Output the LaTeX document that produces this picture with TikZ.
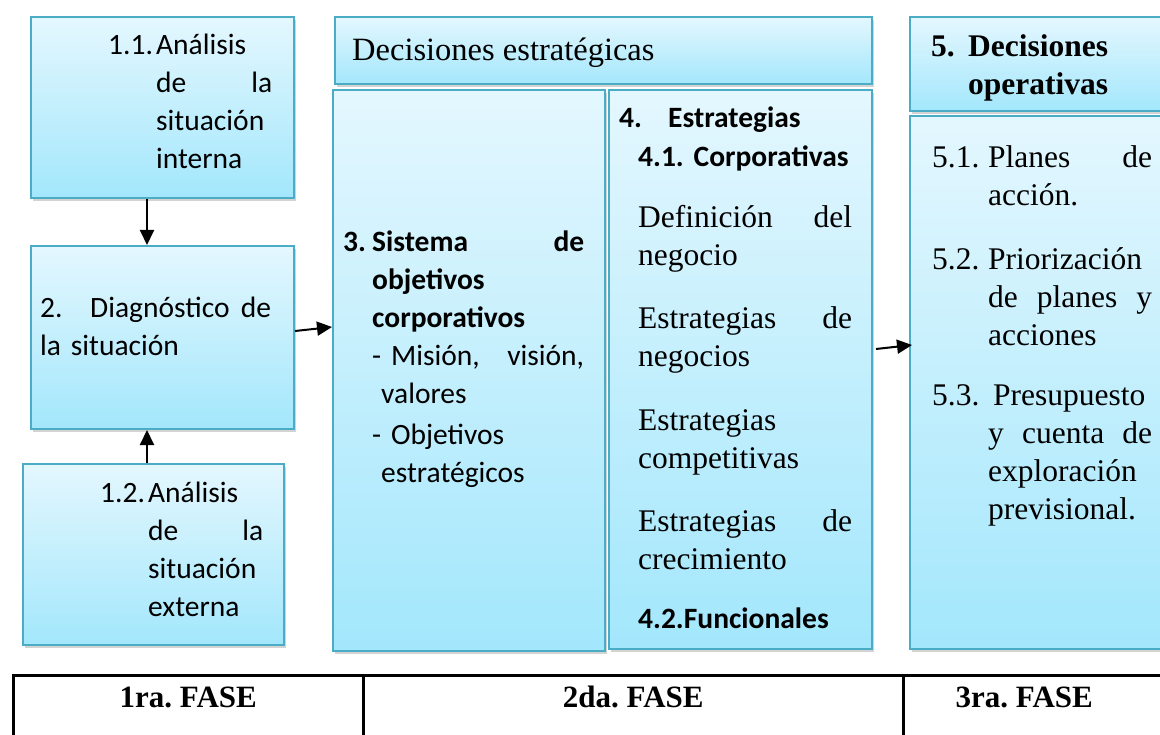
\documentclass[tikz,border=0pt]{standalone}
\usepackage{fontspec}
\setmainfont{Liberation Serif}
\newfontfamily\carlito{Carlito}
\usetikzlibrary{arrows.meta,shadows}
\frenchspacing

\definecolor{bordecaja}{HTML}{4BACC6}
\definecolor{cajaarriba}{HTML}{E4F7FE}
\definecolor{cajaabajo}{HTML}{A3E7FC}

\newcommand{\tnr}{\rmfamily\fontsize{31.5}{38}\selectfont}

\tikzset{
  caja/.style={draw=bordecaja, line width=2pt, top color=cajaarriba, bottom color=cajaabajo,
    anchor=north west, inner sep=0pt,
    drop shadow={shadow xshift=2pt, shadow yshift=-3pt, opacity=0.35}},
  texto/.style={anchor=base west, inner sep=0pt, align=left, font=\carlito\fontsize{29.5}{38}\selectfont},
  flecha/.style={-{Triangle[length=15pt,width=14pt]}, line width=2pt},
  celda/.style={draw, line width=2.5pt, anchor=north west, minimum height=80pt},
  fase/.style={anchor=base, inner sep=0pt, font=\rmfamily\bfseries\fontsize{31}{36}\selectfont},
}

\begin{document}
\begin{tikzpicture}[x=1pt,y=-1pt]
  \useasboundingbox (0,0) rectangle (1160,735);

  % 1ra fase
  \node[caja, minimum width=263pt, minimum height=181pt] (analisisInt) at (30,16) {};
  \node[texto, text width=164pt] (tAnalisisInt) at ([shift={(78,39)}]analisisInt.north west)
    {\makebox[48pt][l]{1.1.}Análisis\\
     \hspace*{48pt}de\hfill la\\
     \hspace*{48pt}situación\\
     \hspace*{48pt}interna};
  \node[caja, minimum width=263pt, minimum height=183pt] (diagnostico) at (30,245) {};
  \node[texto, text width=231pt] (tDiagnostico) at ([shift={(10,73)}]diagnostico.north west)
    {\makebox[50pt][l]{2.}Diagnóstico\hfill de\\
     la situación};
  \node[caja, minimum width=261pt, minimum height=181pt] (analisisExt) at (22,463) {};
  \node[texto, text width=163pt] (tAnalisisExt) at ([shift={(78,39)}]analisisExt.north west)
    {\makebox[48pt][l]{1.2.}Análisis\\
     \hspace*{48pt}de\hfill la\\
     \hspace*{48pt}situación\\
     \hspace*{48pt}externa};

  % 2da fase
  \node[caja, minimum width=537pt, minimum height=67pt] (decEst) at (334,16) {};
  \node[anchor=base west, inner sep=0pt, font=\rmfamily\fontsize{32.5}{38}\selectfont] (tDecEst)
    at ([shift={(18,45)}]decEst.north west) {Decisiones estratégicas};
  \node[caja, minimum width=272pt, minimum height=561pt] (objetivos) at (332,89) {};
  \node[texto, text width=241pt] (tObjetivos) at ([shift={(11,163)}]objetivos.north west)
    {\makebox[29pt][l]{\bfseries 3.}\textbf{Sistema}\hfill\textbf{de}\\
     \hspace*{29pt}\textbf{objetivos}\\
     \hspace*{29pt}\textbf{corporativos}\\
     \hspace*{29pt}- Misión,\hfill visión,\\
     \hspace*{38pt}valores\\[3pt]
     \hspace*{29pt}- Objetivos\\
     \hspace*{38pt}estratégicos};
  \node[caja, minimum width=263pt, minimum height=559pt] (estrategias) at (608,89) {};
  \node[texto, text width=233pt] (tEstrategias) at ([shift={(11,39)}]estrategias.north west)
    {\makebox[49pt][l]{\bfseries 4.}\textbf{Estrategias}\\[1pt]
     \hspace*{19pt}\textbf{4.1. Corporativas}\\[23pt]
     \hspace*{19pt}{\tnr Definición\hfill del}\\
     \hspace*{19pt}{\tnr negocio}\\[25pt]
     \hspace*{19pt}{\tnr Estrategias\hfill de}\\
     \hspace*{19pt}{\tnr negocios}\\[26pt]
     \hspace*{19pt}{\tnr Estrategias}\\
     \hspace*{19pt}{\tnr competitivas}\\[25pt]
     \hspace*{19pt}{\tnr Estrategias\hfill de}\\
     \hspace*{19pt}{\tnr crecimiento}\\[21pt]
     \hspace*{19pt}\textbf{4.2.Funcionales}};

  % 3ra fase
  \node[caja, minimum width=270pt, minimum height=94pt] (decOpe) at (909,16) {};
  \node[texto, font=\tnr\bfseries, text width=230pt] (tDecOpe) at ([shift={(22,41)}]decOpe.north west)
    {\makebox[37pt][l]{5.}Decisiones\\
     \hspace*{37pt}operativas};
  \node[caja, minimum width=270pt, minimum height=533pt] (planes) at (909,115) {};
  \node[texto, font=\tnr, text width=220pt] (tPlanes) at ([shift={(23,53)}]planes.north west)
    {\makebox[56pt][l]{5.1.}Planes\hfill de\\
     \hspace*{56pt}acción.\\[26pt]
     \makebox[56pt][l]{5.2.}Priorización\\
     \hspace*{56pt}de\hfill planes\hfill y\\
     \hspace*{56pt}acciones\\[22pt]
     \makebox[56pt][l]{5.3.}\hspace{5pt}Presupuesto\\
     \hspace*{56pt}y\hfill cuenta\hfill de\\
     \hspace*{56pt}exploración\\
     \hspace*{56pt}previsional.};

  % flechas
  \draw[flecha] ([xshift=-15.5pt]analisisInt.south) -- ([xshift=-15.5pt]diagnostico.north);
  \draw[flecha] ([xshift=-6.5pt]analisisExt.north) -- ([xshift=-15.5pt]diagnostico.south);
  \draw[flecha] ([yshift=6.5pt]diagnostico.east) -- ([yshift=43.5pt]objetivos.west);
  \draw[flecha] ([shift={(3,-20.5)}]estrategias.east) -- ([shift={(3,-37.5)}]planes.west);

  % fases
  \node[celda, minimum width=350pt] (fase1) at (12,674) {};
  \node[celda, minimum width=540pt] (fase2) at (362,674) {};
  \node[celda, minimum width=270pt] (fase3) at (902,674) {};
  \node[fase] (tFase1) at ([yshift=-33pt]fase1.north) {1ra. FASE};
  \node[fase] (tFase2) at ([yshift=-33pt]fase2.north) {2da. FASE};
  \node[fase, xshift=-14pt] (tFase3) at ([yshift=-33pt]fase3.north) {3ra. FASE};
\end{tikzpicture}
\end{document}
